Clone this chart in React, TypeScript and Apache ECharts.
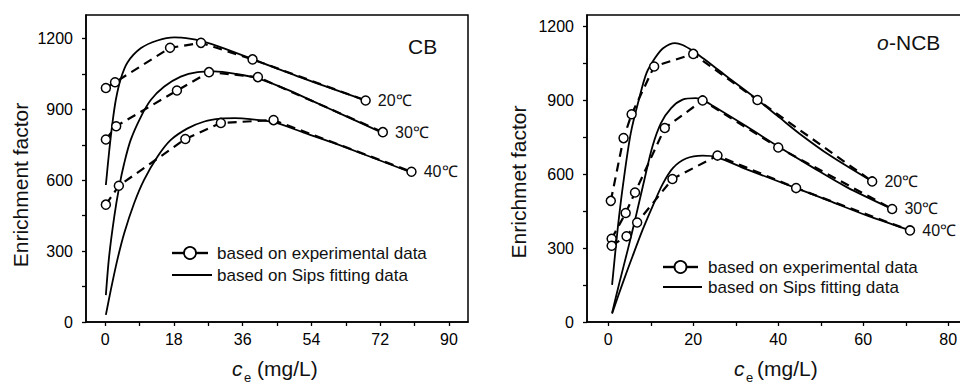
import React, { useEffect, useRef } from "react";
import * as echarts from "echarts";

const FONT = '"Liberation Sans", Arial, Helvetica, sans-serif';

// ---- CB (left) ----
const cbXLabels = [0, 18, 36, 54, 72, 90];
const cbXTicks = [0, 9, 18, 27, 36, 45, 54, 63, 72, 81, 90];
const yLabels = [0, 300, 600, 900, 1200];
const yTicks = [0, 150, 300, 450, 600, 750, 900, 1050, 1200];

const cbExp20X = [0.2, 2.6, 17.0, 25.1, 38.6, 68.2];
const cbExp20Y = [991, 1015, 1161, 1182, 1112, 938];
const cbExp30X = [0.2, 2.9, 18.8, 27.2, 40.0, 72.7];
const cbExp30Y = [773, 829, 980, 1058, 1037, 804];
const cbExp40X = [0.2, 3.6, 21.0, 30.3, 44.1, 80.2];
const cbExp40Y = [497, 577, 775, 843, 855, 636];

const cbFit20X = [0.2, 1.05, 1.9, 2.8, 4.1, 5.9, 9.4, 13.7, 18.1, 22.5, 25.1, 30, 38.6, 53, 68.2];
const cbFit20Y = [580, 720, 840, 940, 1030, 1100, 1160, 1192, 1205, 1199, 1190, 1165, 1113, 1025, 938];
const cbFit30X = [0.2, 1.05, 2.4, 3.7, 5.0, 6.7, 9.4, 12.0, 15.5, 19.8, 24.2, 28.6, 34, 40.2, 48, 56, 72.5];
const cbFit30Y = [114, 277, 446, 573, 672, 771, 870, 941, 997, 1039, 1058, 1061, 1051, 1031, 982, 923, 802];
const cbFit40X = [0.2, 1.5, 3.2, 5.0, 7.6, 10.2, 13.7, 17.2, 21.6, 26.0, 30.3, 34, 38, 44.1, 52, 60.7, 80.0];
const cbFit40Y = [30, 136, 263, 376, 503, 602, 700, 771, 820, 849, 861, 863, 859, 846, 802, 753, 634];

// ---- o-NCB (right) ----
const ncbXLabels = [0, 20, 40, 60, 80];
const ncbXTicks = [0, 10, 20, 30, 40, 50, 60, 70, 80];

const ncbExp20X = [0.6, 3.6, 5.5, 10.8, 20.0, 35.1, 62.1];
const ncbExp20Y = [492, 747, 844, 1038, 1089, 902, 571];
const ncbExp30X = [0.8, 4.1, 6.3, 13.3, 22.2, 40.0, 66.8];
const ncbExp30Y = [338, 443, 526, 788, 900, 709, 459];
const ncbExp40X = [0.8, 4.3, 6.8, 15.1, 25.7, 44.2, 71.0];
const ncbExp40Y = [310, 348, 404, 581, 676, 544, 372];

const ncbFit20X = [0.9, 2.2, 3.5, 5.3, 7.4, 9.0, 11.0, 12.9, 15.7, 17.5, 20.0, 22.4, 24.7, 27.9, 35.1, 40.4, 45.1, 52.2, 62.1];
const ncbFit20Y = [151, 375, 560, 767, 916, 1011, 1072, 1112, 1133, 1125, 1100, 1070, 1040, 997, 903, 829, 764, 676, 571];
const ncbFit30X = [0.9, 2.6, 4.6, 6.5, 8.5, 10.4, 12.4, 14.8, 17.5, 20.6, 22.2, 24.7, 32.6, 40.0, 48.2, 56.1, 66.8];
const ncbFit30Y = [37, 158, 294, 429, 578, 713, 808, 869, 903, 909, 902, 877, 794, 713, 627, 548, 459];
const ncbFit40X = [0.9, 3.4, 5.7, 8.1, 10.4, 12.8, 15.2, 18.3, 22.2, 25.5, 32.6, 44.2, 52.0, 60.8, 71.0];
const ncbFit40Y = [34, 158, 266, 375, 469, 560, 625, 664, 676, 670, 620, 544, 492, 433, 372];

const tempLabels = ["20℃", "30℃", "40℃"];

function pairs(xs: number[], ys: number[]) {
  return xs.map((x, i) => [x, ys[i]]);
}

function expSeries(xs: number[], ys: number[], label: string, gi: number) {
  const data: any[] = pairs(xs, ys);
  const last = data.length - 1;
  data[last] = {
    value: data[last],
    label: {
      show: true,
      position: "right",
      distance: 7,
      formatter: label,
      fontSize: 16,
      fontFamily: FONT,
      color: "#111",
    },
  };
  return {
    type: "line",
    xAxisIndex: gi,
    yAxisIndex: gi,
    data,
    symbol: "circle",
    symbolSize: 9,
    itemStyle: { color: "#fff", borderColor: "#000", borderWidth: 1.5 },
    lineStyle: { color: "#000", width: 2.2, type: [9, 6] },
    z: 3,
    silent: true,
  };
}

function fitSeries(xs: number[], ys: number[], gi: number) {
  return {
    type: "line",
    xAxisIndex: gi,
    yAxisIndex: gi,
    data: pairs(xs, ys),
    symbol: "none",
    smooth: 0.3,
    lineStyle: { color: "#000", width: 1.8 },
    z: 2,
    silent: true,
  };
}

const axisLabelStyle = { fontSize: 16, fontFamily: FONT, color: "#000", formatter: (v: number) => String(v) };

function xAxis(gi: number, min: number, max: number, labels: number[], ticks: number[]) {
  return {
    type: "value",
    gridIndex: gi,
    min,
    max,
    axisLine: { show: true, onZero: false, lineStyle: { color: "#000", width: 1.5 } },
    axisTick: { show: true, customValues: ticks, length: 4, lineStyle: { color: "#000", width: 1.3 } },
    axisLabel: { show: true, customValues: labels, margin: 9, ...axisLabelStyle },
    splitLine: { show: false },
  };
}

function yAxis(gi: number, max: number) {
  return {
    type: "value",
    gridIndex: gi,
    min: 0,
    max,
    axisLine: { show: true, onZero: false, lineStyle: { color: "#000", width: 1.5 } },
    axisTick: { show: true, customValues: yTicks, length: 4, lineStyle: { color: "#000", width: 1.3 } },
    axisLabel: { show: true, customValues: yLabels, margin: 13, ...axisLabelStyle },
    splitLine: { show: false },
  };
}

function legend(x0: number, x1: number, y1: number, y2: number, tx: number) {
  const cx = (x0 + x1) / 2;
  return [
    { type: "line", shape: { x1: x0, y1: y1, x2: cx - 6, y2: y1 }, style: { stroke: "#000", lineWidth: 2.4 } },
    { type: "line", shape: { x1: cx + 6, y1: y1, x2: x1, y2: y1 }, style: { stroke: "#000", lineWidth: 2.4 } },
    { type: "circle", shape: { cx, cy: y1, r: 6 }, style: { fill: "#fff", stroke: "#000", lineWidth: 1.8 } },
    { type: "text", x: tx, y: y1, style: { text: "based on experimental data", font: `17px ${FONT}`, fill: "#111", align: "left", verticalAlign: "middle" } },
    { type: "line", shape: { x1: x0, y1: y2, x2: x1 + 4, y2: y2 }, style: { stroke: "#000", lineWidth: 2 } },
    { type: "text", x: tx, y: y2, style: { text: "based on Sips fitting data", font: `17px ${FONT}`, fill: "#111", align: "left", verticalAlign: "middle" } },
  ];
}

function xTitle(cx: number, ex: number, px: number) {
  return [
    { type: "text", x: cx, y: 368, style: { text: "c", font: `italic 21px ${FONT}`, fill: "#111", align: "left", verticalAlign: "middle" } },
    { type: "text", x: ex, y: 384, style: { text: "e", font: `13px ${FONT}`, fill: "#111", align: "left", verticalAlign: "bottom" } },
    { type: "text", x: px, y: 368, style: { text: "(mg/L)", font: `21px ${FONT}`, fill: "#111", align: "left", verticalAlign: "middle" } },
  ];
}

export default function App() {
  const ref = useRef<HTMLDivElement>(null);
  useEffect(() => {
    if (!ref.current) return;
    const chart = echarts.init(ref.current, null, { renderer: "svg" });
    const option: any = {
      animation: false,
      backgroundColor: "#fff",
      grid: [
        { left: 86, top: 15, width: 382, height: 307, show: true, borderColor: "#000", borderWidth: 1.5, backgroundColor: "transparent" },
        { left: 587, top: 15, width: 382.5, height: 307, show: true, borderColor: "#000", borderWidth: 1.5, backgroundColor: "transparent" },
      ],
      xAxis: [xAxis(0, -5, 95, cbXLabels, cbXTicks), xAxis(1, -5, 85, ncbXLabels, ncbXTicks)],
      yAxis: [yAxis(0, 1300), yAxis(1, 1247)],
      series: [
        fitSeries(cbFit20X, cbFit20Y, 0),
        fitSeries(cbFit30X, cbFit30Y, 0),
        fitSeries(cbFit40X, cbFit40Y, 0),
        expSeries(cbExp20X, cbExp20Y, tempLabels[0], 0),
        expSeries(cbExp30X, cbExp30Y, tempLabels[1], 0),
        expSeries(cbExp40X, cbExp40Y, tempLabels[2], 0),
        fitSeries(ncbFit20X, ncbFit20Y, 1),
        fitSeries(ncbFit30X, ncbFit30Y, 1),
        fitSeries(ncbFit40X, ncbFit40Y, 1),
        expSeries(ncbExp20X, ncbExp20Y, tempLabels[0], 1),
        expSeries(ncbExp30X, ncbExp30Y, tempLabels[1], 1),
        expSeries(ncbExp40X, ncbExp40Y, tempLabels[2], 1),
      ],
      graphic: [
        { type: "text", x: 20, y: 185, rotation: Math.PI / 2, style: { text: "Enrichment factor", font: `21px ${FONT}`, fill: "#111", align: "center", verticalAlign: "middle" } },
        { type: "text", x: 518, y: 182, rotation: Math.PI / 2, style: { text: "Enrichmet factor", font: `21px ${FONT}`, fill: "#111", align: "center", verticalAlign: "middle" } },
        { type: "text", x: 408, y: 46, style: { text: "CB", font: `21px ${FONT}`, fill: "#111", align: "left", verticalAlign: "middle" } },
        { type: "text", x: 877, y: 42, style: { text: "o", font: `italic 21px ${FONT}`, fill: "#111", align: "left", verticalAlign: "middle" } },
        { type: "text", x: 889, y: 42, style: { text: "-NCB", font: `21px ${FONT}`, fill: "#111", align: "left", verticalAlign: "middle" } },
        ...xTitle(232, 244, 257),
        ...xTitle(734, 746, 757),
        ...legend(172, 208, 253, 275, 217),
        ...legend(663, 698, 267, 287, 708),
      ],
    };
    chart.setOption(option);
    return () => chart.dispose();
  }, []);
  return (
    <div style={{ position: "fixed", left: 0, top: 0, width: 960, height: 385, overflow: "hidden", background: "#fff" }}>
      <div ref={ref} style={{ width: 975, height: 385 }} />
    </div>
  );
}
